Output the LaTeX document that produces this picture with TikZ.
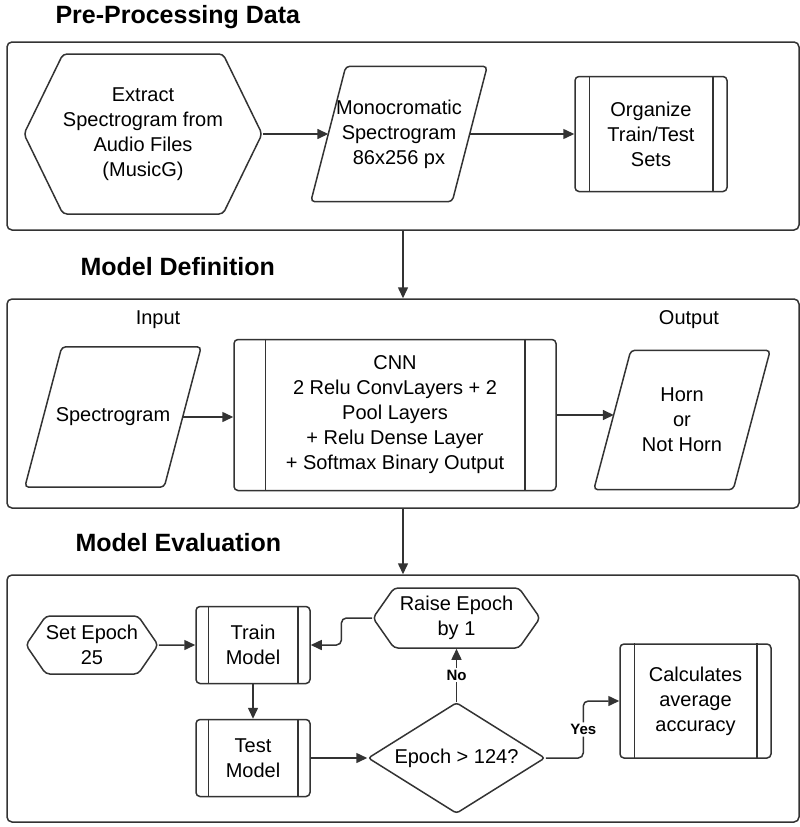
\documentclass[tikz,border=0pt]{standalone}
\usepackage{fontspec}
\setmainfont{Liberation Sans}
\usetikzlibrary{shapes.geometric,shapes.symbols,arrows.meta,calc}
\definecolor{ink}{HTML}{333333}
\tikzset{
  line/.style={draw=ink, line width=1.5pt},
  stage/.style={line, rounded corners=5pt, inner sep=0pt},
  heading/.style={anchor=west, font=\fontsize{25}{30}\selectfont\bfseries},
  hexa/.style={line, signal, signal to=west and east, rounded corners=4pt,
    align=center, inner sep=0pt},
  para/.style={align=center, inner sep=0pt,
    append after command={\pgfextra{\draw[line, rounded corners=4pt]
      ([xshift=#1]\tikzlastnode.north west) -- (\tikzlastnode.north east)
      -- ([xshift=-#1]\tikzlastnode.south east) -- (\tikzlastnode.south west) -- cycle;}}},
  subproc/.style={line, rounded corners=4pt, align=center, inner sep=0pt,
    append after command={
      ([xshift=#1]\tikzlastnode.north west) edge[line, rounded corners=0pt] ([xshift=#1]\tikzlastnode.south west)
      ([xshift=-#1]\tikzlastnode.north east) edge[line, rounded corners=0pt] ([xshift=-#1]\tikzlastnode.south east)}},
  subproc/.default=14,
  decision/.style={line, diamond, aspect=1.6, rounded corners=3pt, inner sep=0pt, align=center},
  flow/.style={line, -{Triangle[length=11pt,width=10pt]}},
  answer/.style={fill=white, inner sep=2pt, font=\fontsize{15}{17}\selectfont\bfseries}
}
\begin{document}
\begin{tikzpicture}[x=1pt, y=-1pt, font=\fontsize{20}{25}\selectfont]
  \useasboundingbox (0,0) rectangle (800,827);
  % pre-processing
  \node[heading] (t1) at (52,17) {Pre-Processing Data};
  \node[stage, minimum width=792, minimum height=188] (pre) at (403,136) {};
  \node[hexa, signal pointer angle=128, minimum width=213, minimum height=160] (ext) at (143,134)
    {Extract\\Spectrogram from\\Audio Files\\(MusicG)};
  \node[para=35, minimum width=176, minimum height=135] (mono) at (399,134)
    {Monocromatic\\Spectrogram\\86x256 px};
  \node[subproc=15, minimum width=152, minimum height=115] (org) at (651,134)
    {Organize\\Train/Test\\Sets};
  \draw[flow] (ext.east) -- ($(mono.west)+(17.5,0)$);
  \draw[flow] ($(mono.east)+(-17.5,0)$) -- (org.west);
  % model definition
  \node[heading] (t2) at (77,267) {Model Definition};
  \node[stage, minimum width=792, minimum height=209] (def) at (403,403.5) {};
  \node (inp) at (158,320) {Input};
  \node (outp) at (689,320) {Output};
  \node[para=37, minimum width=176, minimum height=140] (spec) at (113,417) {Spectrogram};
  \node[subproc=32, minimum width=322, minimum height=151] (cnn) at (395,415)
    {CNN\\2 Relu ConvLayers + 2\\Pool Layers\\+ Relu Dense Layer\\+ Softmax Binary Output};
  \node[para=37, minimum width=176, minimum height=139] (res) at (682,420) {Horn\\or\\Not Horn};
  \draw[flow] ($(spec.east)+(-18.5,0)$) -- (spec.east -| cnn.west);
  \draw[flow] (cnn.east) -- ($(res.west |- cnn.east)+(20,0)$);
  % model evaluation
  \node[heading] (t3) at (72,543) {Model Evaluation};
  \node[stage, minimum width=792, minimum height=247] (ev) at (403,698.5) {};
  \node[hexa, signal pointer angle=111, minimum width=130, minimum height=58] (set) at (92,645)
    {Set Epoch\\25};
  \node[subproc=13, minimum width=114, minimum height=77] (train) at (253,645) {Train\\Model};
  \node[hexa, signal pointer angle=110, minimum width=167, minimum height=60] (raise) at (456.5,618)
    {Raise Epoch\\by 1};
  \node[subproc=13, minimum width=114, minimum height=77] (test) at (253,758) {Test\\Model};
  \node[decision, minimum width=177, minimum height=111] (dec) at (456.5,758) {Epoch > 124?};
  \node[subproc=15, minimum width=151, minimum height=114] (calc) at (695.5,701)
    {Calculates\\average\\accuracy};
  \draw[flow] (set) -- (train);
  \draw[flow, rounded corners=5pt] (raise.west) -| ($(raise.west)!0.5!(train.east)$) |- (train.east);
  \draw[flow] (train) -- (test);
  \draw[flow] (test) -- (dec);
  \draw[flow] (dec.north) -- node[answer] {No} (raise.south);
  \draw[flow, rounded corners=5pt] (dec.east) -- ++(37.5,0)
    |- node[answer, pos=0.25] {Yes} (calc.west);
  % stages
  \draw[flow] (pre.south) -- (def.north);
  \draw[flow] (def.south) -- (ev.north);
\end{tikzpicture}
\end{document}
